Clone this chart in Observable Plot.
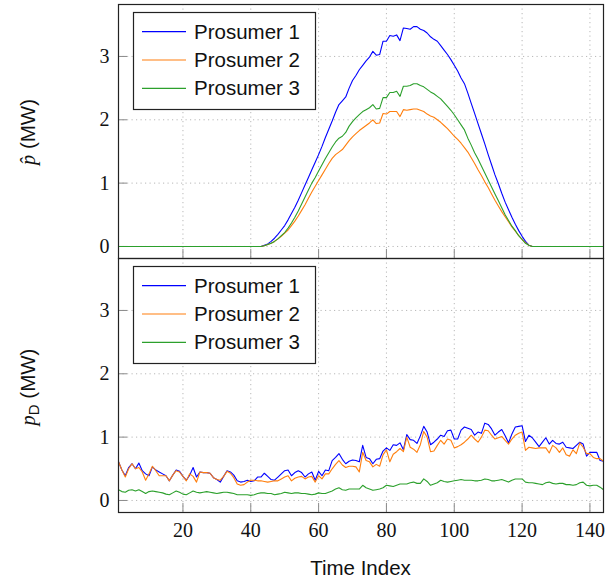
<!DOCTYPE html>
<html><head><meta charset="utf-8">
<script src="https://cdn.jsdelivr.net/npm/d3@7"></script>
<script src="https://cdn.jsdelivr.net/npm/@observablehq/plot@0.6"></script>
<style>
body{margin:0;background:#fff;}
#chart{position:relative;width:605px;height:583px;overflow:hidden;}
#chart > svg{position:absolute;left:0;}
</style></head><body><div id="chart"></div>
<script>
// ---------- data ----------
const series = ["Prosumer 1", "Prosumer 2", "Prosumer 3"];
const colors = ["#0000ff", "#ff7f0e", "#2ca02c"];
const xTicks = [20, 40, 60, 80, 100, 120, 140];
const yTicks = [0, 1, 2, 3];

// top panel: p-hat (MW), time index 1..144
const pHat1 = [0,0,0,0,0,0,0,0,0,0, 0,0,0,0,0,0,0,0,0,0, 0,0,0,0,0,0,0,0,0,0, 0,0,0,0,0,0,0,0,0,0, 0,0,
  0.00,0.02,0.04,0.08,0.13,0.19,0.26,0.33,
  0.42,0.52,0.62,0.73,0.85,0.97,1.09,1.21,1.33,1.45,
  1.58,1.72,1.85,1.98,2.12,2.24,2.30,2.36,2.50,2.62,
  2.70,2.79,2.86,2.93,2.99,3.08,3.02,3.03,3.24,3.24,
  3.33,3.32,3.34,3.25,3.45,3.44,3.43,3.47,3.47,3.43,
  3.41,3.37,3.31,3.27,3.24,3.17,3.10,3.03,2.95,2.86,
  2.77,2.66,2.57,2.42,2.26,2.10,1.94,1.78,1.62,1.45,
  1.29,1.13,0.99,0.84,0.70,0.58,0.46,0.35,0.25,0.16,
  0.08,0.02,0,0,0,0,0,0,0,0,
  0,0,0,0,0,0,0,0,0,0,0,0,0,0];
const pHat2 = [0,0,0,0,0,0,0,0,0,0, 0,0,0,0,0,0,0,0,0,0, 0,0,0,0,0,0,0,0,0,0, 0,0,0,0,0,0,0,0,0,0, 0,0,
  0.00,0.01,0.03,0.05,0.08,0.12,0.16,0.21,
  0.26,0.33,0.40,0.48,0.57,0.66,0.76,0.86,0.95,1.04,
  1.13,1.22,1.31,1.39,1.45,1.49,1.53,1.60,1.67,1.73,
  1.78,1.83,1.87,1.91,1.95,2.00,1.94,1.95,2.10,2.09,
  2.13,2.13,2.13,2.05,2.16,2.15,2.16,2.17,2.17,2.15,
  2.13,2.09,2.06,2.04,2.00,1.96,1.91,1.86,1.80,1.74,
  1.69,1.63,1.56,1.49,1.40,1.31,1.21,1.12,1.02,0.93,
  0.83,0.73,0.64,0.55,0.47,0.39,0.31,0.24,0.17,0.11,
  0.06,0.02,0,0,0,0,0,0,0,0,
  0,0,0,0,0,0,0,0,0,0,0,0,0,0];
const pHat3 = [0,0,0,0,0,0,0,0,0,0, 0,0,0,0,0,0,0,0,0,0, 0,0,0,0,0,0,0,0,0,0, 0,0,0,0,0,0,0,0,0,0, 0,0,
  0.00,0.01,0.03,0.05,0.08,0.12,0.17,0.22,
  0.29,0.37,0.46,0.56,0.67,0.78,0.89,1.00,1.09,1.19,
  1.29,1.39,1.48,1.57,1.65,1.71,1.74,1.80,1.90,1.97,
  2.03,2.08,2.13,2.16,2.19,2.24,2.17,2.18,2.35,2.35,
  2.43,2.43,2.45,2.37,2.53,2.53,2.54,2.57,2.57,2.54,
  2.52,2.48,2.44,2.41,2.37,2.33,2.27,2.21,2.15,2.08,
  2.00,1.92,1.84,1.71,1.60,1.48,1.38,1.27,1.16,1.05,
  0.94,0.83,0.72,0.61,0.50,0.41,0.32,0.25,0.17,0.11,
  0.05,0.02,0,0,0,0,0,0,0,0,
  0,0,0,0,0,0,0,0,0,0,0,0,0,0];

// bottom panel: p_D (MW)
const pD1 = [0.61,0.48,0.39,0.52,0.58,0.50,0.59,0.47,0.42,0.39,
  0.53,0.48,0.45,0.42,0.39,0.31,0.40,0.48,0.46,0.38,
  0.32,0.40,0.52,0.37,0.45,0.44,0.44,0.43,0.36,0.33,
  0.29,0.38,0.47,0.45,0.40,0.31,0.29,0.30,0.32,0.30,
  0.31,0.37,0.37,0.43,0.38,0.33,0.32,0.37,0.42,0.47,
  0.48,0.39,0.44,0.47,0.44,0.37,0.42,0.45,0.32,0.46,
  0.39,0.48,0.47,0.63,0.68,0.74,0.65,0.58,0.62,0.64,
  0.63,0.61,0.87,0.68,0.66,0.58,0.65,0.66,0.78,0.83,
  0.79,0.88,0.87,0.91,0.80,1.04,0.96,0.95,0.90,1.02,
  1.17,1.08,0.88,0.92,0.97,1.03,1.01,1.10,1.11,0.97,
  0.97,1.11,1.16,1.14,1.12,1.03,1.08,1.06,1.22,1.20,
  1.13,1.03,1.08,1.12,1.02,0.91,1.05,1.16,1.17,1.18,
  0.93,1.03,0.99,0.92,0.85,0.92,0.99,0.89,0.95,0.90,
  0.89,0.92,0.84,0.83,0.82,0.87,0.92,0.89,0.70,0.76,
  0.76,0.76,0.63,0.62];
const pD2 = [0.61,0.48,0.37,0.50,0.58,0.50,0.52,0.45,0.32,0.42,
  0.54,0.47,0.39,0.39,0.39,0.31,0.40,0.47,0.45,0.38,
  0.31,0.42,0.38,0.29,0.45,0.44,0.44,0.43,0.36,0.33,
  0.32,0.38,0.46,0.43,0.36,0.26,0.24,0.25,0.29,0.32,
  0.32,0.31,0.31,0.30,0.29,0.30,0.31,0.31,0.34,0.37,
  0.39,0.31,0.35,0.37,0.38,0.34,0.37,0.38,0.29,0.39,
  0.34,0.42,0.42,0.50,0.57,0.63,0.56,0.52,0.54,0.54,
  0.53,0.45,0.76,0.63,0.61,0.53,0.57,0.54,0.72,0.80,
  0.61,0.73,0.77,0.82,0.77,1.00,0.84,0.81,0.76,0.88,
  1.09,1.00,0.77,0.78,0.87,0.95,0.89,0.97,0.95,0.83,
  0.85,0.88,0.92,0.97,1.03,0.97,0.92,1.00,1.11,1.10,
  1.03,0.97,0.99,1.01,0.95,0.89,0.97,1.03,1.06,1.08,
  0.79,0.84,0.83,0.82,0.83,0.83,0.83,0.75,0.87,0.83,
  0.76,0.83,0.72,0.70,0.80,0.74,0.91,0.84,0.74,0.74,
  0.68,0.66,0.66,0.62];
const pD3 = [0.17,0.14,0.13,0.16,0.17,0.15,0.17,0.14,0.11,0.14,
  0.15,0.14,0.13,0.12,0.10,0.09,0.12,0.15,0.13,0.10,
  0.09,0.12,0.15,0.13,0.12,0.13,0.14,0.13,0.12,0.11,
  0.12,0.13,0.13,0.12,0.11,0.09,0.09,0.09,0.09,0.08,
  0.09,0.11,0.12,0.12,0.11,0.11,0.09,0.10,0.11,0.13,
  0.12,0.11,0.12,0.12,0.11,0.11,0.10,0.09,0.10,0.12,
  0.11,0.11,0.13,0.15,0.18,0.20,0.17,0.16,0.18,0.18,
  0.18,0.18,0.24,0.20,0.18,0.16,0.17,0.18,0.20,0.24,
  0.23,0.22,0.24,0.26,0.26,0.26,0.28,0.29,0.27,0.27,
  0.34,0.30,0.24,0.26,0.28,0.32,0.30,0.29,0.30,0.31,
  0.32,0.33,0.32,0.32,0.32,0.31,0.31,0.32,0.34,0.33,
  0.31,0.31,0.32,0.33,0.31,0.29,0.32,0.34,0.34,0.34,
  0.29,0.28,0.28,0.27,0.26,0.25,0.28,0.29,0.27,0.26,
  0.27,0.27,0.25,0.25,0.24,0.25,0.28,0.29,0.24,0.23,
  0.24,0.24,0.21,0.17];

// ---------- build ----------
function rows(arrs) {
  return arrs.flatMap((a, k) => a.map((v, i) => ({t: i + 1, v, s: series[k]})));
}
const topData = rows([pHat1, pHat2, pHat3]);
const botData = rows([pD1, pD2, pD3]);
const serif = "'Liberation Serif', 'DejaVu Serif', serif";
const sans = "'Liberation Sans', Arial, sans-serif";

function panel(data, height, marginBottom, showX) {
  const svg = Plot.plot({
    width: 605, height,
    marginLeft: 118, marginRight: 2, marginTop: 4, marginBottom,
    style: {fontFamily: serif, fontSize: "20px", background: "transparent", overflow: "visible", color: "#111"},
    x: {domain: [1, 144]},
    y: {domain: [-0.19, 3.82]},
    color: {domain: series, range: colors},
    marks: [
      Plot.gridX(xTicks, {stroke: "#b8b8b8", strokeOpacity: 1, strokeDasharray: "1.2,3.3"}),
      Plot.gridY(yTicks, {stroke: "#b8b8b8", strokeOpacity: 1, strokeDasharray: "1.2,3.3"}),
      Plot.axisX(xTicks, {tickSize: -9, stroke: "#8a8a8a", tickFormat: () => "", label: null}),
      Plot.axisY(yTicks, {tickSize: -9, stroke: "#8a8a8a", tickFormat: () => "", label: null}),
      Plot.axisY(yTicks, {tickSize: 0, tickPadding: 9, label: null, fill: "#111", fontFamily: serif, fontSize: 20, tickFormat: d3.format("d")}),
      showX ? Plot.axisX(xTicks, {tickSize: 0, tickPadding: 10, label: null, fill: "#111", fontFamily: serif, fontSize: 20, tickFormat: d3.format("d")}) : null,
      Plot.lineY(data, {x: "t", y: "v", stroke: "s", strokeWidth: 1.1}),
      Plot.frame({stroke: "#222", strokeWidth: 1.2})
    ]
  });
  svg.querySelectorAll("text").forEach(t => {
    t.style.fontFamily = serif;
    t.style.fontVariant = "normal";
    t.style.fontSize = "20px";
  });
  return svg;
}

const chart = document.getElementById("chart");
const top1 = panel(topData, 260, 2, false);
top1.style.top = "0px";
chart.appendChild(top1);
const bot = panel(botData, 329, 71, true);
bot.style.top = "254px";
chart.appendChild(bot);

// ---------- overlay: legends and axis titles ----------
const NS = "http://www.w3.org/2000/svg";
const ov = document.createElementNS(NS, "svg");
ov.setAttribute("width", 605); ov.setAttribute("height", 583);
ov.style.top = "0px";
chart.appendChild(ov);
function el(name, attrs, parent) {
  const e = document.createElementNS(NS, name);
  for (const k in attrs) e.setAttribute(k, attrs[k]);
  (parent || ov).appendChild(e);
  return e;
}
[0, 254].forEach(off => {
  const g = el("g", {transform: `translate(0,${off})`});
  el("rect", {x: 133.5, y: 12.5, width: 182, height: 97, fill: "#fff", stroke: "#222", "stroke-width": 1.2}, g);
  series.forEach((s, i) => {
    const y = 31.7 + i * 28.3;
    el("line", {x1: 142, x2: 186, y1: y, y2: y, stroke: colors[i], "stroke-width": 1.2}, g);
    const t = el("text", {x: 194, y: y + 6.8, "font-family": sans, "font-size": "20.5px", fill: "#111"}, g);
    t.textContent = s;
  });
});
// y titles
const yt1 = el("text", {transform: "translate(35,132) rotate(-90)", "text-anchor": "middle", "font-size": "20.5px", fill: "#111"});
const a1 = el("tspan", {"font-family": serif, "font-style": "italic"}, yt1); a1.textContent = "p\u0302";
const b1 = el("tspan", {"font-family": sans}, yt1); b1.textContent = " (MW)";
const yt2 = el("text", {transform: "translate(35,387) rotate(-90)", "text-anchor": "middle", "font-size": "20.5px", fill: "#111"});
const a2 = el("tspan", {"font-family": serif, "font-style": "italic"}, yt2); a2.textContent = "p";
const c2 = el("tspan", {"font-family": sans, "font-size": "15px", dy: "4"}, yt2); c2.textContent = "D";
const b2 = el("tspan", {"font-family": sans, dy: "-4"}, yt2); b2.textContent = " (MW)";
// x title
const xt = el("text", {x: 360.5, y: 575, "text-anchor": "middle", "font-family": sans, "font-size": "20.5px", fill: "#111"});
xt.textContent = "Time Index";
</script></body></html>
